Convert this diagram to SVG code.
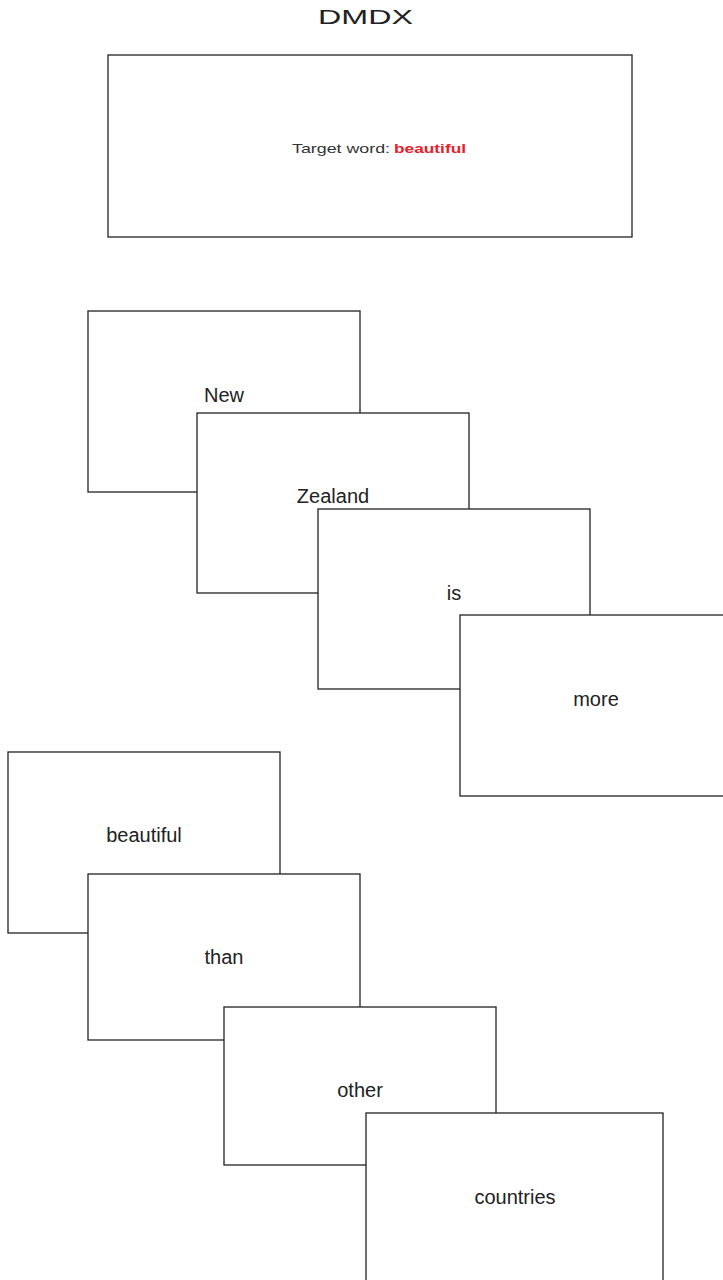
<svg xmlns="http://www.w3.org/2000/svg" width="723" height="1280" viewBox="0 0 723 1280">
<style>
.box{fill:#fff;stroke:#222;stroke-width:1.3}
.w{font-family:"Liberation Sans",Arial,sans-serif;font-size:20px;fill:#222;text-anchor:middle}
.t{font-family:"Liberation Sans",Arial,sans-serif;font-size:13px;fill:#333}
</style>
<rect width="723" height="1280" fill="#fff"/>
<text x="318" y="24" class="t" style="font-size:21px;fill:#222" textLength="95" lengthAdjust="spacingAndGlyphs">DMDX</text>
<g id="instruction">
<rect class="box" x="108" y="55" width="524" height="182"/>
<text class="t" x="292" y="153" textLength="98" lengthAdjust="spacingAndGlyphs">Target word:</text>
<text class="t" x="394" y="153" style="fill:#e8202a;font-weight:bold" textLength="72" lengthAdjust="spacingAndGlyphs">beautiful</text>
</g>
<g id="w1"><rect class="box" x="88" y="311" width="272" height="181"/><text class="w" x="224" y="402">New</text></g>
<g id="w2"><rect class="box" x="197" y="413" width="272" height="180"/><text class="w" x="333" y="503">Zealand</text></g>
<g id="w3"><rect class="box" x="318" y="509" width="272" height="180"/><text class="w" x="454" y="600">is</text></g>
<g id="w4"><rect class="box" x="460" y="615" width="272" height="181"/><text class="w" x="596" y="706">more</text></g>
<g id="w5"><rect class="box" x="8" y="752" width="272" height="181"/><text class="w" x="144" y="842">beautiful</text></g>
<g id="w6"><rect class="box" x="88" y="874" width="272" height="166"/><text class="w" x="224" y="964">than</text></g>
<g id="w7"><rect class="box" x="224" y="1007" width="272" height="158"/><text class="w" x="360" y="1097">other</text></g>
<g id="w8"><rect class="box" x="366" y="1113" width="297" height="180"/><text class="w" x="515" y="1204">countries</text></g>
<g id="connectors"></g>
</svg>
